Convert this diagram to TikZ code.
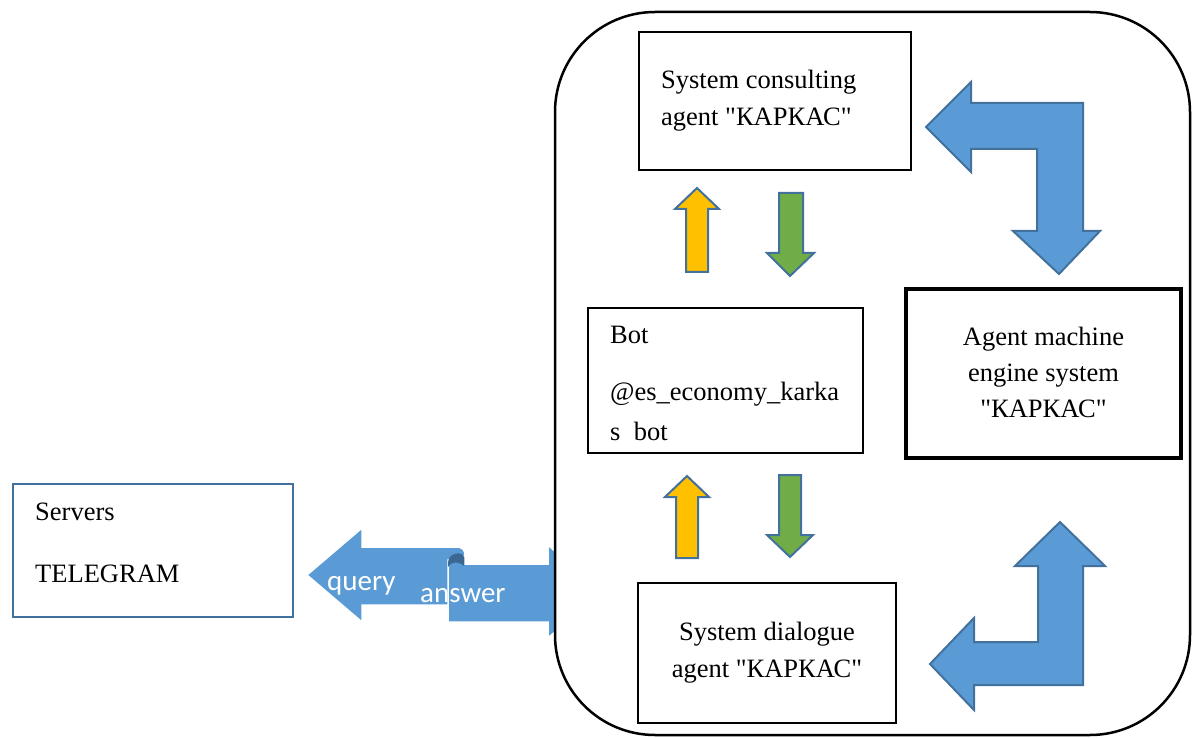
\documentclass[tikz,border=0pt]{standalone}
\usepackage{fontspec}
\setmainfont{Liberation Serif}[Ligatures=TeXOff]
\newfontfamily\ribbonfont{Carlito}
\definecolor{arrowblue}{RGB}{91,155,213}
\definecolor{edgeblue}{RGB}{65,113,156}
\definecolor{foldblue}{RGB}{58,104,146}
\definecolor{amber}{RGB}{255,192,0}
\definecolor{leafgreen}{RGB}{112,173,71}
\begin{document}
\begin{tikzpicture}[x=1pt,y=-1pt,
  box/.style={draw=black, line width=1.8pt, inner sep=0pt, fill=white},
  txt/.style={inner sep=0pt, font=\fontsize{26.5}{32}\selectfont},
  bentarrow/.style={fill=arrowblue, draw=edgeblue, line width=2pt, line join=miter},
  uparrow/.style={fill=amber, draw=edgeblue, line width=2pt, line join=miter},
  downarrow/.style={fill=leafgreen, draw=edgeblue, line width=2pt, line join=miter},
  ribbon/.style={fill=arrowblue, draw=white, line width=1.5pt, line join=miter},
  ribbontext/.style={text=white, inner sep=0pt, font=\ribbonfont\fontsize{29}{34}\selectfont}]
\useasboundingbox (0,0) rectangle (1192,738);

% query / answer ribbon between Telegram and the system
\draw[ribbon] (307,575) -- (362,528) -- (362,547) -- (457,547)
  .. controls (462,547) and (465,550) .. (465,555) -- (465,605)
  -- (362,605) -- (362,622) -- cycle;
\draw[ribbon] (448,560) -- (448,622) -- (548,622) -- (548,638) -- (600,592)
  -- (548,545) -- (548,564) -- (465,564) -- (465,556) -- cycle;
\fill[foldblue] (448,563) .. controls (448,552) and (463,551) .. (464,557)
  -- (464,566) .. controls (458,561) and (452,561) .. (448,567) -- cycle;
\node[ribbontext, anchor=base west] (query) at (327,590) {query};
\node[ribbontext, anchor=base west] (answer) at (420,602) {answer};

% outer frame of the system
\node[draw=black, line width=2.5pt, fill=white, rounded corners=100pt,
  minimum width=635pt, minimum height=723pt, inner sep=0pt] (frame) at (872.5,373.5) {};

% boxes
\node[draw=edgeblue, line width=2.5pt, inner sep=0pt, fill=white,
  minimum width=280pt, minimum height=133pt] (servers) at (153,550.5) {};
\node[box, minimum width=272pt, minimum height=138pt] (consult) at (775,101) {};
\node[box, minimum width=275pt, minimum height=145pt] (bot) at (725.5,380.5) {};
\node[box, line width=4.5pt, minimum width=275pt, minimum height=169pt] (engine) at (1043.5,373.5) {};
\node[box, minimum width=258pt, minimum height=140pt] (dialog) at (767,653) {};

% texts
\node[txt, anchor=base west] (srv1) at (35,520) {Servers};
\node[txt, anchor=base west] (srv2) at (35,582) {TELEGRAM};
\node[txt, anchor=base west] (con1) at (661,89) {System consulting};
\node[txt, anchor=base west] (con2) at (661,126) {agent "КАРКАС"};
\node[txt, anchor=base west] (bot1) at (610,343) {Bot};
\node[txt, anchor=base west] (bot2) at (610,400) {@es\_economy\_karka};
\node[txt, anchor=base west] (bot3) at (610,440) {s\ \ bot};
\node[txt, anchor=base] (eng1) at (1043.5,345) {Agent machine};
\node[txt, anchor=base] (eng2) at (1043.5,381) {engine system};
\node[txt, anchor=base] (eng3) at (1043.5,417) {"КАРКАС"};
\node[txt, anchor=base] (dia1) at (767,640) {System dialogue};
\node[txt, anchor=base] (dia2) at (767,677) {agent "КАРКАС"};

% small arrows between the bot and the agents
\draw[uparrow] (697,188) -- (719,209) -- (708,209) -- (708,272) -- (686,272) -- (686,209) -- (675,209) -- cycle;
\draw[downarrow] (790,276) -- (814,253) -- (803,253) -- (803,193) -- (779,193) -- (779,253) -- (767,253) -- cycle;
\draw[uparrow] (687,476) -- (709,497) -- (698,497) -- (698,558) -- (676,558) -- (676,497) -- (665,497) -- cycle;
\draw[downarrow] (790,557) -- (813,535) -- (801,535) -- (801,475) -- (779,475) -- (779,535) -- (767,535) -- cycle;

% bent arrows linking the engine with the agents
\draw[bentarrow] (926,127) -- (971,82) -- (971,103) -- (1083,103) -- (1083,231) -- (1100,231)
  -- (1059,274) -- (1013,231) -- (1037,231) -- (1037,149) -- (971,149) -- (971,172) -- cycle;
\draw[bentarrow] (930,664) -- (974,618) -- (974,642) -- (1038,642) -- (1038,566) -- (1015,566)
  -- (1060,522) -- (1105,566) -- (1083,566) -- (1083,685) -- (974,685) -- (974,710) -- cycle;
\end{tikzpicture}
\end{document}
